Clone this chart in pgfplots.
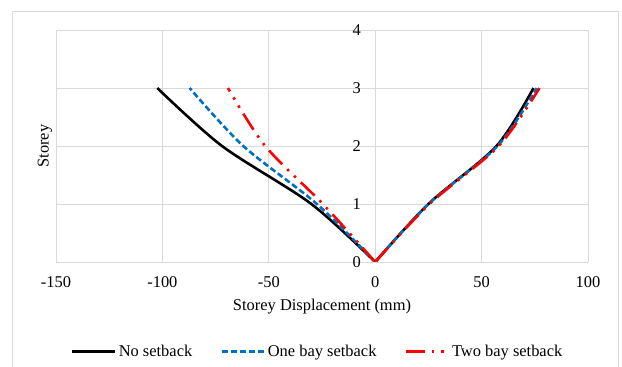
\documentclass[border=0pt]{standalone}
\usepackage{pgfplots}
\pgfplotsset{compat=1.18}
\usepackage{fontspec}
\setmainfont{Liberation Serif}

\definecolor{gridgray}{RGB}{217,217,217}
\definecolor{framegray}{RGB}{217,217,217}
\definecolor{onebay}{RGB}{0,112,192}
\definecolor{twobay}{RGB}{255,0,0}

\begin{document}
\begin{tikzpicture}[x=1bp,y=1bp]
  % page extent and the chart-area frame
  \path[use as bounding box] (0bp,0bp) rectangle (622bp,367bp);
  \draw[framegray, line width=1bp] (12.5bp,-5bp) -- (12.5bp,355.5bp) -- (618.5bp,355.5bp) -- (618.5bp,-5bp);

  \begin{axis}[
    at={(56bp,105bp)}, anchor=south west,
    scale only axis, width=532bp, height=232bp,
    xmin=-150, xmax=100, ymin=0, ymax=4,
    xtick={-150,-100,-50,0,50,100},
    xticklabels={-150,-100,-50,0,50,100},
    ytick={0,1,2,3,4},
    yticklabels={0,1,2,3,4},
    major tick length=0pt,
    grid=major,
    major grid style={gridgray, line width=0.9bp},
    axis line style={draw=none},
    font=\fontsize{16.5}{19}\selectfont,
    xticklabel style={anchor=center, yshift=-20.5bp},
    yticklabel style={anchor=center, xshift=300.7bp},
    xlabel={Storey Displacement (mm)},
    ylabel={Storey},
    xlabel style={at={(axis description cs:0.5,-0.193)}, anchor=center},
    ylabel style={at={(axis description cs:-0.0207,0.5)}, anchor=center},
    legend columns=3,
    legend style={at={(axis description cs:0.492,-0.387)}, anchor=center,
      draw=none, fill=none, font=\fontsize{16.5}{19}\selectfont,
      /tikz/every even column/.append style={column sep=26bp},
      inner sep=0pt},
    legend image code/.code={\draw[#1] (0bp,0bp) -- (43bp,0bp);},
    every axis plot/.append style={line width=2.6bp, line cap=butt, line join=round},
  ]
    % No setback
    \addplot[black, smooth] coordinates {(0,0) (-30,1) (-72,2) (-102.4,3)};
    \addlegendentry{No setback}
    % One bay setback
    \addplot[onebay, smooth, dash pattern=on 6bp off 3bp] coordinates {(0,0) (-27.4,1) (-62,2) (-87.2,3)};
    \addlegendentry{One bay setback}
    % Two bay setback
    \addplot[twobay, smooth, dash pattern=on 19bp off 7bp on 2.5bp off 7bp on 2.5bp off 7bp] coordinates {(0,0) (-24.6,1) (-51.7,2) (-69.2,3)};
    \addlegendentry{Two bay setback}

    % positive direction
    \addplot[black, smooth, forget plot] coordinates {(0,0) (25,1) (57,2) (74.4,3)};
    \addplot[onebay, smooth, dash pattern=on 6bp off 3bp, forget plot] coordinates {(0,0) (25,1) (57.5,2) (75.9,3)};
    \addplot[twobay, smooth, dash pattern=on 19bp off 7bp on 2.5bp off 7bp on 2.5bp off 7bp, forget plot] coordinates {(0,0) (25.5,1) (58,2) (77.2,3)};
  \end{axis}
\end{tikzpicture}
\end{document}
